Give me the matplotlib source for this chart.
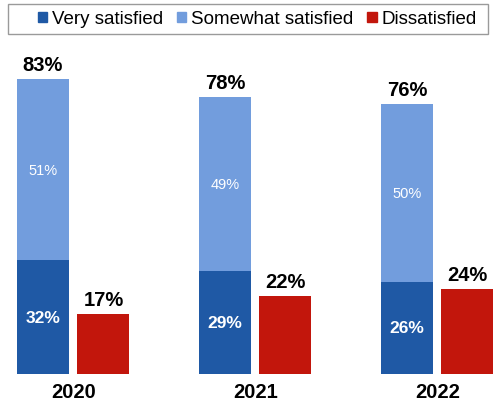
import matplotlib.pyplot as plt
from matplotlib.patches import Rectangle, Patch

plt.rcParams['font.family'] = ['Liberation Sans', 'DejaVu Sans']

years = ['2020', '2021', '2022']
very_satisfied = [32, 29, 26]
somewhat_satisfied = [51, 49, 50]
dissatisfied = [17, 22, 24]
total_satisfied = [83, 78, 76]

c_dark = '#1F59A5'
c_light = '#729DDD'
c_red = '#C2160C'

fig = plt.figure(figsize=(4.94, 4.06), dpi=100)
ax = fig.add_axes([0, 1 - 375 / 406, 1, 335 / 406])

x = list(range(len(years)))
off = 0.1662
w = 0.2857
xs = [i - off for i in x]
xr = [i + off for i in x]

ax.bar(xs, very_satisfied, width=w, color=c_dark)
ax.bar(xs, somewhat_satisfied, width=w, bottom=very_satisfied, color=c_light)
ax.bar(xr, dissatisfied, width=w, color=c_red)

for i in x:
    ax.text(xs[i], very_satisfied[i] / 2, f'{very_satisfied[i]}%', ha='center', va='center',
            color='white', fontsize=12.5, fontweight='bold')
    ax.text(xs[i], very_satisfied[i] + somewhat_satisfied[i] / 2, f'{somewhat_satisfied[i]}%',
            ha='center', va='center', color='white', fontsize=10.5)
    ax.text(xs[i], total_satisfied[i] + 1.3, f'{total_satisfied[i]}%', ha='center', va='bottom',
            fontsize=14.5, fontweight='bold')
    ax.text(xr[i], dissatisfied[i] + 1.3, f'{dissatisfied[i]}%', ha='center', va='bottom',
            fontsize=14.5, fontweight='bold')
    ax.text(i, -2.2, years[i], ha='center', va='top', fontsize=14.5, fontweight='bold')

ax.set_xlim(-73.25 / 182, (494 - 73.25) / 182)
ax.set_ylim(0, 335 / 3.554)
ax.axis('off')

# legend box across the top
fig.patches.append(Rectangle((8 / 494, 1 - 35 / 406), 480 / 494, 30 / 406,
                             transform=fig.transFigure, fill=False,
                             edgecolor='#9A9A9A', linewidth=1))
handles = [Patch(color=c_dark), Patch(color=c_light), Patch(color=c_red)]
fig.legend(handles, ['Very satisfied', 'Somewhat satisfied', 'Dissatisfied'],
           loc='center', bbox_to_anchor=(257 / 494, 1 - 20 / 406), ncol=3, frameon=False,
           fontsize=13.5, handlelength=0.5, handleheight=0.5, handletextpad=0.25,
           columnspacing=0.75)

fig.savefig('out.png', dpi=100)
